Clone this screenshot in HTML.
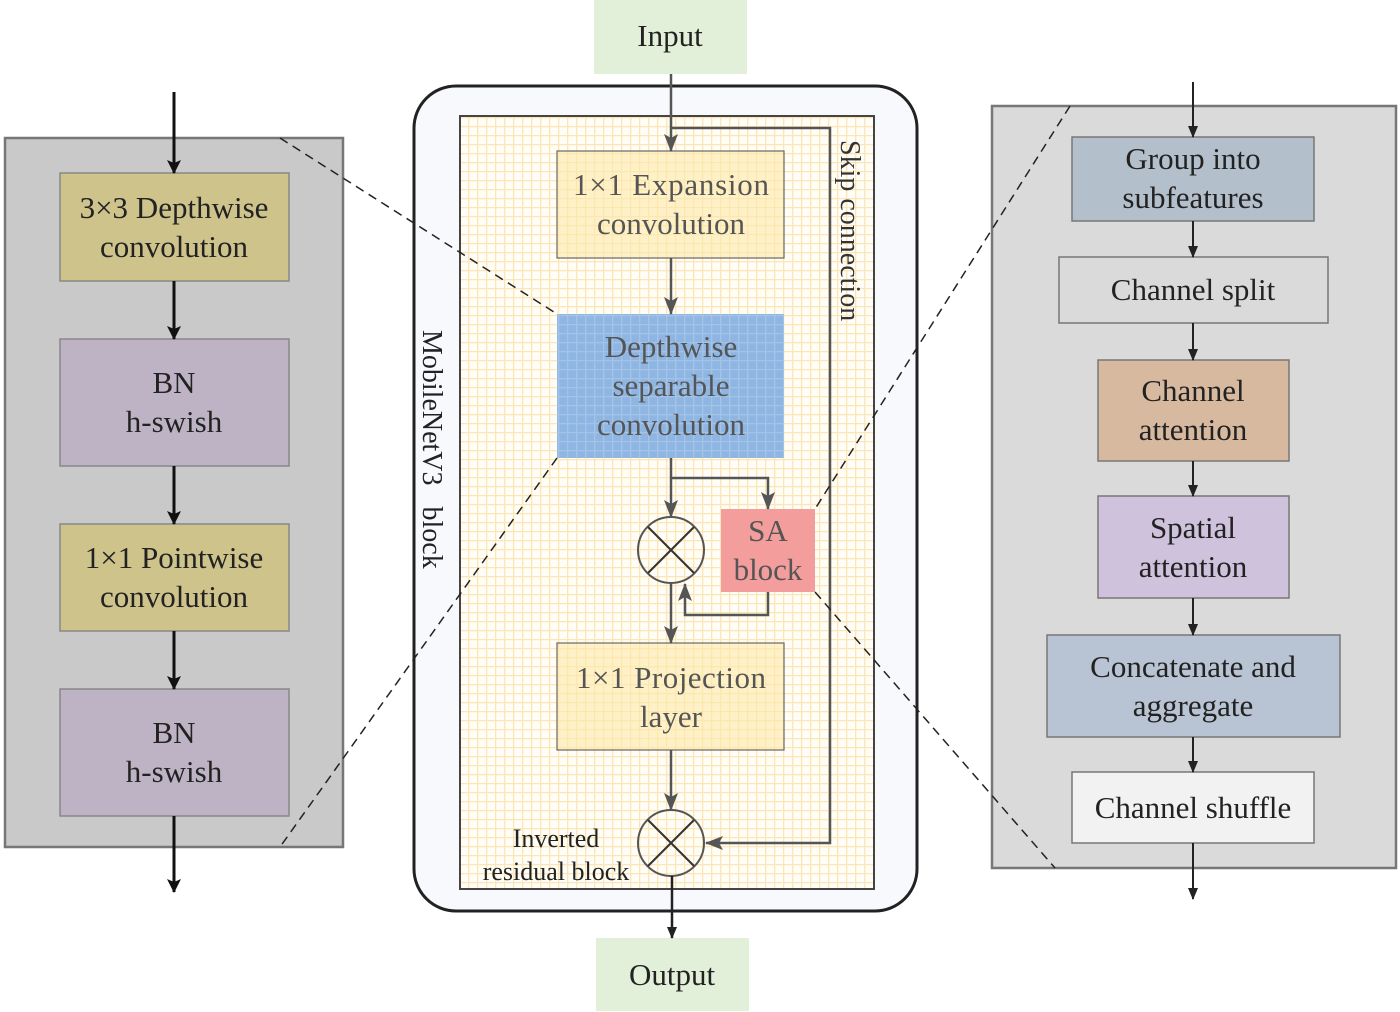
<!DOCTYPE html>
<html><head><meta charset="utf-8"><style>
html,body{margin:0;padding:0;background:#fff;}
svg{display:block;}
text{font-family:"Liberation Serif",serif;}
</style></head><body>
<svg width="1400" height="1012" viewBox="0 0 1400 1012" xmlns="http://www.w3.org/2000/svg">
<defs>
<pattern id="grid" width="9" height="9" patternUnits="userSpaceOnUse">
<rect width="9" height="9" fill="#fffdf6"/>
<path d="M0 0.5H9M0.5 0V9" stroke="#fbe6b8" stroke-width="1.6"/>
</pattern>
<pattern id="gridb" width="9" height="9" patternUnits="userSpaceOnUse">
<path d="M0 0.5H9M0.5 0V9" stroke="#ffffff" stroke-opacity="0.18" stroke-width="1.6"/>
</pattern>
<marker id="ak" markerWidth="14" markerHeight="16" refX="13" refY="8" orient="auto" markerUnits="userSpaceOnUse">
<path d="M0 1L14 8L0 15L3 8z" fill="#111"/></marker>
<marker id="ak2" markerWidth="12" markerHeight="12" refX="11" refY="6" orient="auto" markerUnits="userSpaceOnUse">
<path d="M0 1L12 6L0 11z" fill="#222"/></marker>
<marker id="agb" markerWidth="18" markerHeight="16" refX="17" refY="8" orient="auto" markerUnits="userSpaceOnUse">
<path d="M0 1L18 8L0 15L4 8z" fill="#555"/></marker>
</defs>

<rect x="594" y="0" width="153" height="74" fill="#e3f0d9"/>
<text x="670" y="46" font-size="31" text-anchor="middle" fill="#222">Input</text>
<rect x="596" y="938" width="153" height="73" fill="#e3f0d9"/>
<text x="672" y="985" font-size="31" text-anchor="middle" fill="#222">Output</text>

<rect x="414" y="86" width="503" height="825" rx="42" fill="#f8f9fd" stroke="#222" stroke-width="3"/>
<rect x="460" y="116" width="414" height="773" fill="url(#grid)" stroke="#444" stroke-width="2"/>

<rect x="5" y="138" width="338" height="709" fill="#c9c9c9" stroke="#777" stroke-width="2.5"/>
<rect x="60" y="173" width="229" height="108" fill="#cfc38c" stroke="#888" stroke-width="1.5"/>
<rect x="60" y="339" width="229" height="127" fill="#bdb3c5" stroke="#888" stroke-width="1.5"/>
<rect x="60" y="524" width="229" height="107" fill="#cfc38c" stroke="#888" stroke-width="1.5"/>
<rect x="60" y="689" width="229" height="127" fill="#bdb3c5" stroke="#888" stroke-width="1.5"/>
<g stroke="#111" stroke-width="3">
<line x1="174" y1="92" x2="174" y2="173" marker-end="url(#ak)"/>
<line x1="174" y1="281" x2="174" y2="339" marker-end="url(#ak)"/>
<line x1="174" y1="466" x2="174" y2="524" marker-end="url(#ak)"/>
<line x1="174" y1="631" x2="174" y2="689" marker-end="url(#ak)"/>
<line x1="174" y1="816" x2="174" y2="892" marker-end="url(#ak)"/>
</g>
<g font-size="31" text-anchor="middle" fill="#222">
<text x="174" y="218">3×3 Depthwise</text><text x="174" y="257">convolution</text>
<text x="174" y="393">BN</text><text x="174" y="432">h-swish</text>
<text x="174" y="568">1×1 Pointwise</text><text x="174" y="607">convolution</text>
<text x="174" y="743">BN</text><text x="174" y="782">h-swish</text>
</g>

<rect x="992" y="106" width="404" height="762" fill="#dadada" stroke="#777" stroke-width="2.5"/>
<rect x="1072" y="137" width="242" height="84" fill="#b4bfcc" stroke="#777" stroke-width="1.5"/>
<rect x="1059" y="257" width="269" height="66" fill="#dadada" stroke="#777" stroke-width="1.5"/>
<rect x="1098" y="360" width="191" height="101" fill="#d7b9a0" stroke="#777" stroke-width="1.5"/>
<rect x="1098" y="496" width="191" height="102" fill="#cfc2dc" stroke="#777" stroke-width="1.5"/>
<rect x="1047" y="635" width="293" height="102" fill="#b8c4d3" stroke="#777" stroke-width="1.5"/>
<rect x="1072" y="772" width="242" height="71" fill="#f2f2f2" stroke="#777" stroke-width="1.5"/>
<g stroke="#222" stroke-width="2">
<line x1="1193" y1="82" x2="1193" y2="137" marker-end="url(#ak2)"/>
<line x1="1193" y1="221" x2="1193" y2="257" marker-end="url(#ak2)"/>
<line x1="1193" y1="323" x2="1193" y2="360" marker-end="url(#ak2)"/>
<line x1="1193" y1="461" x2="1193" y2="496" marker-end="url(#ak2)"/>
<line x1="1193" y1="598" x2="1193" y2="635" marker-end="url(#ak2)"/>
<line x1="1193" y1="737" x2="1193" y2="772" marker-end="url(#ak2)"/>
<line x1="1193" y1="843" x2="1193" y2="899" marker-end="url(#ak2)"/>
</g>
<g font-size="31" text-anchor="middle" fill="#222">
<text x="1193" y="169">Group into</text><text x="1193" y="208">subfeatures</text>
<text x="1193" y="300">Channel split</text>
<text x="1193" y="401">Channel</text><text x="1193" y="440">attention</text>
<text x="1193" y="538">Spatial</text><text x="1193" y="577">attention</text>
<text x="1193" y="677">Concatenate and</text><text x="1193" y="716">aggregate</text>
<text x="1193" y="818">Channel shuffle</text>
</g>

<rect x="557" y="151" width="227" height="107" fill="#fde9a8" fill-opacity="0.6" stroke="#666" stroke-width="1.2"/>
<rect x="557" y="314" width="227" height="144" fill="#8fb6e2"/>
<rect x="557" y="314" width="227" height="144" fill="url(#gridb)"/>
<rect x="721" y="509" width="94" height="83" fill="#f49d9d"/>
<rect x="557" y="643" width="227" height="107" fill="#fde9a8" fill-opacity="0.6" stroke="#666" stroke-width="1.2"/>

<g font-size="31" text-anchor="middle" fill="#555">
<text x="671" y="195" textLength="196">1×1 Expansion</text><text x="671" y="234">convolution</text>
<text x="671" y="357">Depthwise</text><text x="671" y="396">separable</text><text x="671" y="435">convolution</text>
<text x="768" y="541">SA</text><text x="768" y="580">block</text>
<text x="671" y="688" textLength="190">1×1 Projection</text><text x="671" y="727">layer</text>
</g>

<g stroke="#555" stroke-width="2.5" fill="none">
<line x1="671" y1="74" x2="671" y2="151" marker-end="url(#agb)"/>
<polyline points="671,128 830,128 830,843 706,843" marker-end="url(#agb)"/>
<line x1="671" y1="258" x2="671" y2="314" marker-end="url(#agb)"/>
<line x1="671" y1="458" x2="671" y2="517" marker-end="url(#agb)"/>
<polyline points="671,478 768,478 768,509" marker-end="url(#agb)"/>
<polyline points="768,592 768,615 685,615 685,584" marker-end="url(#agb)"/>
<line x1="671" y1="583" x2="671" y2="643" marker-end="url(#agb)"/>
<line x1="671" y1="750" x2="671" y2="810" marker-end="url(#agb)"/>
<circle cx="671" cy="550" r="33" stroke-width="2"/>
<line x1="648" y1="527" x2="694" y2="573" stroke="#333" stroke-width="2"/>
<line x1="694" y1="527" x2="648" y2="573" stroke="#333" stroke-width="2"/>
<circle cx="671" cy="843" r="33" stroke-width="2"/>
<line x1="648" y1="820" x2="694" y2="866" stroke="#333" stroke-width="2"/>
<line x1="694" y1="820" x2="648" y2="866" stroke="#333" stroke-width="2"/>
</g>
<line x1="672" y1="876" x2="672" y2="938" stroke="#222" stroke-width="2.5" marker-end="url(#ak2)"/>

<text x="556" y="847" font-size="26" text-anchor="middle" fill="#222">Inverted</text>
<text x="556" y="880" font-size="26" text-anchor="middle" fill="#222">residual block</text>
<text transform="translate(423,330) rotate(90)" font-size="28" fill="#222" xml:space="preserve">MobileNetV3   block</text>
<text transform="translate(841,140) rotate(90)" font-size="28" fill="#333">Skip connection</text>

<g stroke="#222" stroke-width="1.5" stroke-dasharray="9,6" fill="none">
<line x1="280" y1="138" x2="557" y2="314"/>
<line x1="557" y1="458" x2="280" y2="847"/>
<line x1="1070" y1="106" x2="815" y2="509"/>
<line x1="815" y1="592" x2="1055" y2="868"/>
</g>
</svg>
</body></html>
